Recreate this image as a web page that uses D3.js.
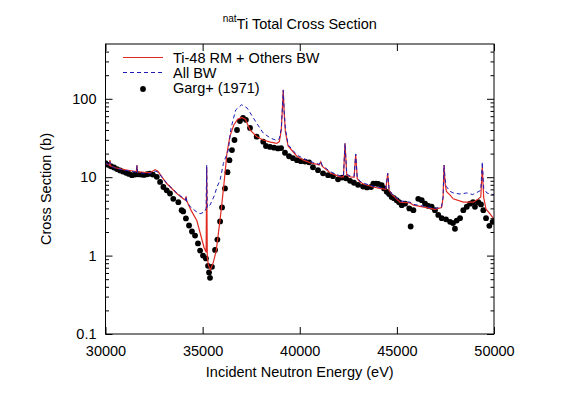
<!DOCTYPE html>
<html>
<head>
<meta charset="utf-8">
<script src="https://cdn.jsdelivr.net/npm/d3@7"></script>
<style>
  body { margin: 0; background: #fff; }
  svg text { font-family: "Liberation Sans", Arial, Helvetica, sans-serif; fill: #000; }
  .axis path { display: none; }
  .axis line { stroke: #000; stroke-width: 1; }
</style>
</head>
<body>
<div id="chart"></div>
<script>
`use strict`;

// Ti-48 RM + Others BW (red)
const rmEnergy = [30000,30150,30200,30230,30260,30500,31000,31500,31590,31620,31650,32000,32300,32550,32700,33150,33700,34050,34120,34150,34180,34400,34700,35070,35180,35210,35240,35300,35400,35550,35700,35900,36000,36150,36250,36400,36600,36800,37010,37200,37440,37780,38110,38500,38810,38950,39050,39100,39150,39200,39260,39400,39850,40200,40530,40900,41000,41080,41150,41560,42070,42250,42330,42420,42590,42800,42880,42960,43100,43280,43770,44130,44430,44528,44600,44750,45160,45680,45850,46540,46960,47300,47380,47426,47480,47550,47740,47900,48420,48940,49110,49320,49398,49470,49590,49800,50000];
const rmXs = [15.1,14.4,14.2,16.5,14.0,13.2,12.4,11.9,11.8,14.3,11.7,11.5,11.4,12.5,11.9,8.3,6.1,5.2,5.1,5.7,5.0,3.8,2.8,1.28,1.1,13.5,0.95,0.75,0.66,0.82,1.15,2.9,4.8,11,20,33,46,55,58,55,40,33,29.8,28,27,28.5,40,70,130,65,38,25,18.5,16.5,15.3,14.6,14.3,15.7,13.8,11.4,10.1,10.1,27,10.6,10.1,10.0,19.8,9.6,8.7,8.2,7.5,7.2,7.0,11.2,6.8,6.0,4.8,4.7,4.4,4.1,3.9,4.1,5.5,14.3,8.5,6.6,5.9,5.3,4.8,4.8,5.1,5.6,13.5,5.5,3.9,3.4,2.9];

// All BW (blue dashed)
const bwEnergy = [30000,30150,30200,30230,30260,30500,31000,31500,31590,31620,31650,32000,32300,32550,32700,33150,33700,34050,34120,34150,34180,34400,34700,34870,35100,35180,35210,35240,35380,35600,35740,35900,36070,36320,36460,36700,37010,37300,37450,37780,38120,38500,38800,38950,39050,39100,39150,39200,39260,39400,39850,40370,40700,41000,41080,41150,41560,42070,42250,42330,42420,42590,42800,42880,42960,43100,43280,43770,44130,44430,44528,44600,44750,45160,45680,45850,46540,46960,47300,47380,47426,47480,47550,47740,47900,48250,48600,48900,49180,49320,49398,49470,49630,49800,50000];
const bwXs = [15.3,14.5,14.2,15.8,14.0,13.0,12.2,11.7,11.6,14.0,11.5,11.2,11.1,12.0,11.6,8.4,6.2,5.3,5.1,5.7,4.9,4.1,3.6,3.42,3.6,4.0,14.2,4.1,4.4,5.8,7.5,9.2,15,22,42,72,84,76,66,49,36.5,31.5,29.5,31,42,72,128,68,42,26,19.2,16.5,15.4,14.6,16,14.2,11.8,10.4,10.4,27,10.9,10.4,10.3,19.8,9.9,8.9,8.4,7.7,7.4,7.2,11.2,7.0,6.1,5.0,4.8,4.5,4.2,4.0,4.2,5.6,14.3,9.5,7.6,6.6,6.3,6.1,6.3,6.0,6.5,6.8,15.7,7.2,6.3,6.1,6.0];

// Garg+ (1971) measurements
const gargEnergy = [30000,30130,30280,30440,30590,30750,30900,31060,31210,31360,31520,31670,31830,31980,32140,32290,32440,32640,32810,32980,33150,33320,33490,33750,33920,34000,34140,34300,34450,34610,34760,34870,35020,35170,35280,35330,35380,35480,35640,35760,35900,36000,36150,36280,36380,36510,36640,36770,36920,37080,37230,37440,37780,38120,38260,38470,38680,38880,39040,39240,39450,39650,39860,40060,40270,40480,40680,40940,41200,41460,41710,41970,42180,42380,42590,42790,43000,43260,43460,43670,43790,43930,44040,44220,44340,44480,44600,44730,44850,44990,45110,45250,45420,45640,45710,45850,46100,46280,46450,46620,46790,46960,47130,47310,47530,47740,47890,47990,48080,48250,48420,48600,48770,48920,49020,49190,49330,49450,49590,49760,49930];
const gargXs = [15.1,14.4,13.8,13.3,12.7,12.2,11.8,11.4,11.0,10.6,10.8,10.9,10.8,10.7,10.9,11.1,10.8,10.1,8.7,7.5,6.8,6.2,5.3,4.8,3.8,3.66,2.98,2.42,2.03,1.80,1.43,1.16,1.0,0.92,0.74,0.61,0.52,0.72,1.18,1.6,2.73,4.12,7.2,11.6,16.5,22.2,29.8,40,52,57,54,42.5,32.9,28.4,25,24.3,23.8,23.3,23.5,20.5,18.5,17.5,16.5,16.0,15.8,15.5,13.4,12.3,11.2,10.6,10.3,9.4,9.9,9.7,9.0,8.5,8.0,7.6,7.4,7.5,8.3,8.3,8.2,7.9,7.2,6.5,6.1,5.6,5.4,5.1,4.8,4.4,4.6,4.0,2.35,3.8,5.3,5.1,4.6,4.3,4.2,3.8,3.3,3.0,2.9,2.7,2.6,2.2,2.8,3.0,3.8,4.2,4.6,4.8,4.2,4.8,4.5,3.8,3.0,2.4,2.7];

const xTicks = [30000,35000,40000,45000,50000];
const yTicks = [0.1,1,10,100];
const yMinorTicks = [0.2,0.3,0.4,0.5,0.6,0.7,0.8,0.9,2,3,4,5,6,7,8,9,20,30,40,50,60,70,80,90,200,300,400];

const legendLabels = ['Ti-48 RM + Others BW', 'All BW', 'Garg+ (1971)'];

let w = 563, h = 394;
let margin = {top: 44, right: 69, bottom: 60, left: 105.5};
let pw = w - margin.left - margin.right, ph = h - margin.top - margin.bottom;
const red = '#e02a22', blue = '#1c1cb4';
let dotR = 2.9;

let svg = d3.select('#chart').append('svg')
    .attr('width', w).attr('height', h);

let scales = {
    x: d3.scaleLinear().domain([30000, 50000]).range([margin.left, margin.left + pw]),
    y: d3.scaleLog().domain([0.1, 500]).range([margin.top + ph, margin.top])
};

let zip = (xs, ys) => xs.map((e, i) => ({e: e, s: ys[i]}));

let line = d3.line()
    .x((d) => { return scales.x(d.e); })
    .y((d) => { return scales.y(d.s); });

//clip everything to the frame
svg.append('clipPath').attr('id', 'plot-clip')
    .append('rect').attr('x', margin.left).attr('y', margin.top)
    .attr('width', pw).attr('height', ph);

let plot = svg.append('g').attr('clip-path', 'url(#plot-clip)');

plot.selectAll('circle.garg').data(zip(gargEnergy, gargXs)).enter()
    .append('circle').classed('garg', true)
    .attr('cx', (d) => scales.x(d.e)).attr('cy', (d) => scales.y(d.s))
    .attr('r', dotR).attr('fill', '#000');

plot.append('path').datum(zip(rmEnergy, rmXs))
    .attr('fill', 'none').attr('stroke', red).attr('stroke-width', 1.2)
    .attr('d', line);

plot.append('path').datum(zip(bwEnergy, bwXs))
    .attr('fill', 'none').attr('stroke', blue).attr('stroke-width', 1)
    .attr('stroke-dasharray', '4,3')
    .attr('d', line);

//axes, ticks pointing inwards on all four sides
let fontTick = '14.5px';
let group = svg.append('g').classed('axes', true);

group.append('g').classed('axis', true)
    .attr('transform', `translate(0,${margin.top + ph})`)
    .call(d3.axisBottom(scales.x).tickValues(xTicks).tickSize(-7).tickPadding(12).tickFormat(d3.format('d')))
    .selectAll('text').style('font-size', fontTick);

group.append('g').classed('axis', true)
    .attr('transform', `translate(0,${margin.top})`)
    .call(d3.axisTop(scales.x).tickValues(xTicks).tickSize(-7).tickFormat(() => null));

group.append('g').classed('axis', true)
    .attr('transform', `translate(${margin.left},0)`)
    .call(d3.axisLeft(scales.y).tickValues(yTicks).tickSize(-7).tickPadding(9).tickFormat((d) => d3.format('')(d)))
    .selectAll('text').style('font-size', fontTick);

group.append('g').classed('axis', true)
    .attr('transform', `translate(${margin.left},0)`)
    .call(d3.axisLeft(scales.y).tickValues(yMinorTicks).tickSize(-3.5).tickFormat(() => null));

group.append('g').classed('axis', true)
    .attr('transform', `translate(${margin.left + pw},0)`)
    .call(d3.axisRight(scales.y).tickValues(yTicks).tickSize(-7).tickFormat(() => null));

group.append('g').classed('axis', true)
    .attr('transform', `translate(${margin.left + pw},0)`)
    .call(d3.axisRight(scales.y).tickValues(yMinorTicks).tickSize(-3.5).tickFormat(() => null));

svg.append('rect')
    .attr('x', margin.left).attr('y', margin.top)
    .attr('width', pw).attr('height', ph)
    .attr('fill', 'none').attr('stroke', '#000').attr('stroke-width', 1);

//title with superscript
let title = svg.append('text')
    .attr('x', margin.left + pw / 2).attr('y', 29)
    .attr('text-anchor', 'middle').style('font-size', '14.5px');
title.append('tspan').text('nat').style('font-size', '10px').attr('dy', -7);
title.append('tspan').text('Ti Total Cross Section').attr('dy', 7);

svg.append('text')
    .attr('x', margin.left + pw / 2).attr('y', 377)
    .attr('text-anchor', 'middle').style('font-size', '14.5px')
    .text('Incident Neutron Energy (eV)');

svg.append('text')
    .attr('transform', `translate(51,${margin.top + ph / 2}) rotate(-90)`)
    .attr('text-anchor', 'middle').style('font-size', '14.5px')
    .text('Cross Section (b)');

//legend
let legend = svg.append('g').classed('legend', true);
let rowY = [57.5, 72.5, 87.5];
legend.append('line').attr('x1', 123).attr('x2', 163).attr('y1', rowY[0]).attr('y2', rowY[0])
    .attr('stroke', red).attr('stroke-width', 1.2);
legend.append('line').attr('x1', 123).attr('x2', 163).attr('y1', rowY[1]).attr('y2', rowY[1])
    .attr('stroke', blue).attr('stroke-width', 1).attr('stroke-dasharray', '4,3');
legend.append('circle').attr('cx', 143).attr('cy', rowY[2] + 1.5).attr('r', dotR).attr('fill', '#000');
legendLabels.forEach((t, i) => {
    legend.append('text').attr('x', 173).attr('y', rowY[i] + 5)
        .style('font-size', '14.5px').text(t);
});
</script>
</body>
</html>
